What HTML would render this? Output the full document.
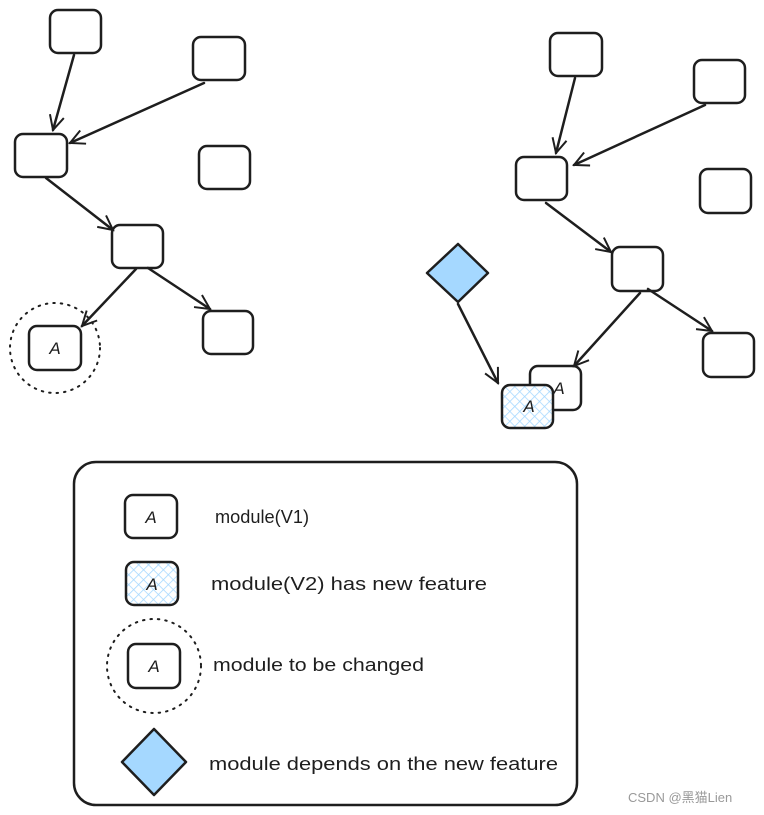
<!DOCTYPE html>
<html><head><meta charset="utf-8"><style>html,body{margin:0;padding:0;background:#fff;}svg{display:block}</style></head>
<body>
<svg width="764" height="815" viewBox="0 0 764 815" xmlns="http://www.w3.org/2000/svg">
<defs>
<pattern id="hatch" width="7" height="7" patternUnits="userSpaceOnUse" patternTransform="rotate(45)">
<rect width="7" height="7" fill="#fff"/>
<path d="M0 0V7M0 0H7" stroke="#a5d8ff" stroke-width="1.6"/>
</pattern>
<marker id="ar" viewBox="0 0 20 20" refX="18" refY="10" markerWidth="18" markerHeight="18" markerUnits="userSpaceOnUse" orient="auto">
<path d="M2 2 L18 10 L2 18" fill="none" stroke="#1e1e1e" stroke-width="2.2"/>
</marker>
</defs>
<g fill="none" stroke="#1e1e1e" stroke-width="2.5" stroke-linecap="round" stroke-linejoin="round">
<!-- left graph boxes -->
<rect x="50" y="10" width="51" height="43" rx="8"/>
<rect x="193" y="37" width="52" height="43" rx="8"/>
<rect x="15" y="134" width="52" height="43" rx="8"/>
<rect x="199" y="146" width="51" height="43" rx="8"/>
<rect x="112" y="225" width="51" height="43" rx="8"/>
<rect x="203" y="311" width="50" height="43" rx="8"/>
<rect x="29" y="326" width="52" height="44" rx="8"/>
<circle cx="55" cy="348" r="45" stroke-width="2" stroke-dasharray="1.5 6"/>
<!-- left arrows -->
<line x1="74" y1="55" x2="53" y2="130" marker-end="url(#ar)"/>
<line x1="204" y1="83" x2="70" y2="143" marker-end="url(#ar)"/>
<line x1="46" y1="178" x2="113" y2="230" marker-end="url(#ar)"/>
<line x1="136" y1="269" x2="82" y2="326" marker-end="url(#ar)"/>
<line x1="148" y1="268" x2="210" y2="309" marker-end="url(#ar)"/>
<!-- right graph boxes -->
<rect x="550" y="33" width="52" height="43" rx="8"/>
<rect x="694" y="60" width="51" height="43" rx="8"/>
<rect x="516" y="157" width="51" height="43" rx="8"/>
<rect x="700" y="169" width="51" height="44" rx="8"/>
<rect x="612" y="247" width="51" height="44" rx="8"/>
<rect x="703" y="333" width="51" height="44" rx="8"/>
<rect x="530" y="366" width="51" height="44" rx="8"/>
<rect x="502" y="385" width="51" height="43" rx="8" fill="url(#hatch)"/>
<path d="M458 244 L488 273 L458 302 L427 273 Z" fill="#a5d8ff" stroke-width="2.5"/>
<!-- right arrows -->
<line x1="575" y1="78" x2="556" y2="153" marker-end="url(#ar)"/>
<line x1="705" y1="105" x2="574" y2="165" marker-end="url(#ar)"/>
<line x1="546" y1="203" x2="611" y2="252" marker-end="url(#ar)"/>
<line x1="640" y1="293" x2="574" y2="366" marker-end="url(#ar)"/>
<line x1="648" y1="289" x2="712" y2="331" marker-end="url(#ar)"/>
<line x1="458" y1="304" x2="498" y2="383" marker-end="url(#ar)"/>
<!-- legend -->
<rect x="74" y="462" width="503" height="343" rx="22"/>
<rect x="125" y="495" width="52" height="43" rx="8"/>
<rect x="126" y="562" width="52" height="43" rx="8" fill="url(#hatch)"/>
<rect x="128" y="644" width="52" height="44" rx="8"/>
<circle cx="154" cy="666" r="47" stroke-width="2" stroke-dasharray="1.5 6"/>
<path d="M154 729 L186 762 L154 795 L122 762 Z" fill="#a5d8ff"/>
</g>
<g font-family="Liberation Sans, sans-serif" fill="#1e1e1e">
<g font-style="italic" font-size="17" text-anchor="middle">
<text x="55" y="354">A</text>
<text x="559" y="394">A</text>
<text x="529" y="412">A</text>
<text x="151" y="523">A</text>
<text x="152" y="590">A</text>
<text x="154" y="672">A</text>
</g>
<g font-size="18">
<text x="215" y="523" textLength="94" lengthAdjust="spacingAndGlyphs">module(V1)</text>
<text x="211" y="590" textLength="276" lengthAdjust="spacingAndGlyphs">module(V2) has new feature</text>
<text x="213" y="671" textLength="211" lengthAdjust="spacingAndGlyphs">module to be changed</text>
<text x="209" y="770" textLength="349" lengthAdjust="spacingAndGlyphs">module depends on the new feature</text>
</g>
<text x="628" y="802" font-size="13" fill="#999" font-family="Liberation Sans, 'Noto Sans CJK SC', sans-serif">CSDN @黑猫Lien</text>
</g>
</svg>
</body></html>
